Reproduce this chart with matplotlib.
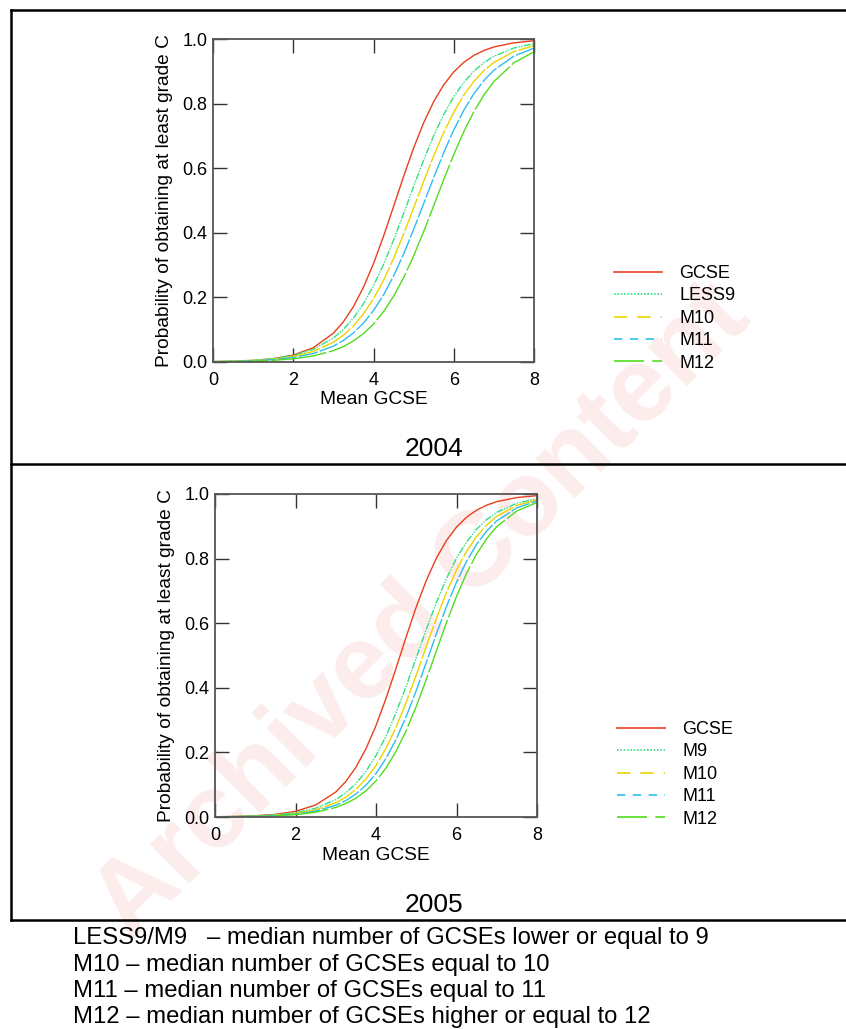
import matplotlib
matplotlib.use("Agg")
import matplotlib.pyplot as plt
from matplotlib.lines import Line2D

plt.rcParams['font.family'] = ['Liberation Sans', 'DejaVu Sans']

# Mean GCSE grid; quarter steps through the steep middle part
mean_gcse = [0, 0.5, 1, 1.5, 2, 2.5, 3, 3.25, 3.5, 3.75, 4, 4.25, 4.5, 4.75,
             5, 5.25, 5.5, 5.75, 6, 6.25, 6.5, 6.75, 7, 7.5, 8]

# 2004 curves
gcse_04 = [0.0011, 0.0023, 0.0048, 0.0102, 0.0214, 0.0442, 0.0891, 0.1245, 0.1715,
           0.2315, 0.3047, 0.3894, 0.4813, 0.5744, 0.6626, 0.7408, 0.8060, 0.8581,
           0.8980, 0.9276, 0.9490, 0.9644, 0.9753, 0.9882, 0.9944]
less9_04 = [0.0014, 0.0027, 0.0054, 0.0105, 0.0203, 0.0392, 0.0742, 0.1009, 0.1359,
            0.1806, 0.2361, 0.3022, 0.3777, 0.4596, 0.5438, 0.6255, 0.7007, 0.7664,
            0.8213, 0.8657, 0.9003, 0.9268, 0.9466, 0.9721, 0.9856]
m10_04 = [0.0012, 0.0024, 0.0046, 0.0089, 0.0171, 0.0325, 0.0611, 0.0830, 0.1118,
          0.1490, 0.1959, 0.2530, 0.3203, 0.3959, 0.4769, 0.5591, 0.6382, 0.7105,
          0.7734, 0.8260, 0.8685, 0.9018, 0.9274, 0.9611, 0.9795]
m11_04 = [0.0010, 0.0020, 0.0038, 0.0073, 0.0139, 0.0262, 0.0491, 0.0667, 0.0900,
          0.1204, 0.1593, 0.2077, 0.2662, 0.3342, 0.4100, 0.4903, 0.5710, 0.6482,
          0.7183, 0.7792, 0.8301, 0.8712, 0.9034, 0.9472, 0.9717]
m12_04 = [0.0007, 0.0014, 0.0027, 0.0051, 0.0098, 0.0186, 0.0351, 0.0479, 0.0651,
          0.0879, 0.1176, 0.1558, 0.2034, 0.2611, 0.3285, 0.4037, 0.4838, 0.5647,
          0.6422, 0.7130, 0.7747, 0.8264, 0.8682, 0.9266, 0.9603]

# 2005 curves
gcse_05 = [0.0008, 0.0017, 0.0038, 0.0081, 0.0175, 0.0371, 0.0773, 0.1098, 0.1538,
           0.2112, 0.2830, 0.3676, 0.4613, 0.5579, 0.6502, 0.7326, 0.8014, 0.8560,
           0.8975, 0.9281, 0.9500, 0.9655, 0.9763, 0.9890, 0.9949]
m9_05 = [0.0008, 0.0016, 0.0033, 0.0067, 0.0135, 0.0272, 0.0538, 0.0749, 0.1036,
         0.1414, 0.1904, 0.2510, 0.3234, 0.4053, 0.4930, 0.5810, 0.6642, 0.7382,
         0.8009, 0.8515, 0.8911, 0.9211, 0.9433, 0.9713, 0.9857]
m10_05 = [0.0006, 0.0013, 0.0027, 0.0054, 0.0110, 0.0221, 0.0439, 0.0614, 0.0854,
          0.1175, 0.1596, 0.2131, 0.2786, 0.3551, 0.4399, 0.5284, 0.6150, 0.6950,
          0.7647, 0.8225, 0.8686, 0.9041, 0.9308, 0.9647, 0.9823]
m11_05 = [0.0005, 0.0011, 0.0022, 0.0044, 0.0090, 0.0182, 0.0363, 0.0509, 0.0711,
          0.0984, 0.1347, 0.1817, 0.2405, 0.3110, 0.3917, 0.4787, 0.5670, 0.6513,
          0.7271, 0.7917, 0.8442, 0.8854, 0.9168, 0.9573, 0.9785]
m12_05 = [0.0004, 0.0009, 0.0018, 0.0036, 0.0073, 0.0147, 0.0295, 0.0416, 0.0582,
          0.0810, 0.1117, 0.1521, 0.2037, 0.2673, 0.3423, 0.4260, 0.5142, 0.6015,
          0.6829, 0.7543, 0.8141, 0.8620, 0.8990, 0.9477, 0.9736]

labels_04 = ['GCSE', 'LESS9', 'M10', 'M11', 'M12']
labels_05 = ['GCSE', 'M9', 'M10', 'M11', 'M12']
x_ticks = [0, 2, 4, 6, 8]
y_ticks = [0.0, 0.2, 0.4, 0.6, 0.8, 1.0]

notes = ['LESS9/M9   \u2013 median number of GCSEs lower or equal to 9',
         'M10 \u2013 median number of GCSEs equal to 10',
         'M11 \u2013 median number of GCSEs equal to 11',
         'M12 \u2013 median number of GCSEs higher or equal to 12']

colors = ['#e8401c', '#2ee084', '#ecd400', '#2cbdf0', '#52dc1e']
plot_dashes = [None, (5, 1, 1, 1, 1, 1), (25, 1.5), (14, 1.5), (40, 2)]
legend_dashes = [None, (1, 1), (8, 6), (5, 4.5), (18, 5)]

W, H = 846, 1029
fig = plt.figure(figsize=(W / 100, H / 100), dpi=100)


def px_box(left, top, right, bottom):
    return [left / W, 1 - bottom / H, (right - left) / W, (bottom - top) / H]


def draw_panel(box, series, labels, leg_xy, title, title_y):
    ax = fig.add_axes(box)
    ax.set_facecolor('none')
    for vals, col, dsh in zip(series, colors, plot_dashes):
        line, = ax.plot(mean_gcse, vals, color=col, lw=1.0)
        if dsh is not None:
            line.set_dashes(dsh)
    ax.set_xlim(0, 8)
    ax.set_ylim(0, 1)
    ax.set_xticks(x_ticks)
    ax.set_yticks(y_ticks)
    ax.set_yticklabels(['%.1f' % v for v in y_ticks])
    ax.tick_params(direction='in', top=True, right=True, length=10, width=1,
                   color='#333333', labelsize=13)
    ax.tick_params(axis='x', pad=7)
    ax.tick_params(axis='y', pad=4)
    for sp in ax.spines.values():
        sp.set_color('#555555')
        sp.set_linewidth(1.3)
    ax.set_xlabel('Mean GCSE', fontsize=13.8, labelpad=2)
    ax.set_ylabel('Probability of obtaining at least grade C', fontsize=13.8, labelpad=7)

    handles = []
    for col, dsh in zip(colors, legend_dashes):
        h = Line2D([], [], color=col, lw=1.2)
        if dsh is not None:
            h.set_dashes(dsh)
        handles.append(h)
    fig.legend(handles, labels, loc='upper left',
               bbox_to_anchor=(leg_xy[0] / W, 1 - leg_xy[1] / H),
               frameon=False, fontsize=13, handlelength=2.67,
               handletextpad=0.95, labelspacing=0.3, borderpad=0, borderaxespad=0)
    fig.text(434 / W, 1 - title_y / H, title, fontsize=19, ha='center', va='center')
    return ax


draw_panel(px_box(213, 39, 534, 362),
           [gcse_04, less9_04, m10_04, m11_04, m12_04], labels_04,
           (614, 265), '2004', 449)
draw_panel(px_box(215, 494, 537, 817),
           [gcse_05, m9_05, m10_05, m11_05, m12_05], labels_05,
           (617, 721), '2005', 905)

# outer frame of the two panels
frame_kw = dict(color='black', lw=1.8, transform=fig.transFigure)
fig.add_artist(Line2D([11 / W, 1], [1 - 10 / H, 1 - 10 / H], **frame_kw))
fig.add_artist(Line2D([11 / W, 1], [1 - 464 / H, 1 - 464 / H], **frame_kw))
fig.add_artist(Line2D([11 / W, 1], [1 - 920 / H, 1 - 920 / H], **frame_kw))
fig.add_artist(Line2D([11 / W, 11 / W], [1 - 10 / H, 1 - 920 / H], **frame_kw))

# footnotes
for i, note in enumerate(notes):
    fig.text(73 / W, 1 - (938 + 26.5 * i) / H, note, fontsize=17.2,
             ha='left', va='center')

# faint archive watermark
fig.text(423 / W, 1 - 612 / H, 'Archived Content', rotation=45, fontsize=76,
         weight='bold', color='#fcecec', ha='center', va='center', zorder=-5)

fig.savefig('out.png', dpi=100)
